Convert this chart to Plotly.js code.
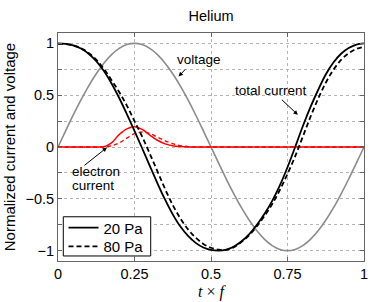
<!DOCTYPE html>
<html>
<head>
<meta charset="utf-8">
<script src="https://cdn.plot.ly/plotly-3.0.1.min.js"></script>
<style>html,body{margin:0;padding:0;background:#fff;}#chart{width:374px;height:302px;}</style>
</head>
<body>
<div id="chart"></div>
<script>
// t x f (phase of the RF period)
var phase = [0,0.025,0.05,0.075,0.1,0.125,0.15,0.175,0.2,0.225,0.25,0.275,0.3,0.325,0.35,0.375,0.4,0.425,0.45,0.475,0.5,0.525,0.55,0.575,0.6,0.625,0.65,0.675,0.7,0.725,0.75,0.775,0.8,0.825,0.85,0.875,0.9,0.925,0.95,0.975,1];

// normalized voltage
var voltage = [0,0.156,0.309,0.454,0.588,0.707,0.809,0.891,0.951,0.988,1,0.988,0.951,0.891,0.809,0.707,0.588,0.454,0.309,0.156,0,-0.156,-0.309,-0.454,-0.588,-0.707,-0.809,-0.891,-0.951,-0.988,-1,-0.988,-0.951,-0.891,-0.809,-0.707,-0.588,-0.454,-0.309,-0.156,0];

// total current, 20 Pa
var total20 = [1,0.995,0.98,0.95,0.9,0.828,0.733,0.613,0.473,0.318,0.155,-0.012,-0.182,-0.35,-0.508,-0.65,-0.768,-0.858,-0.925,-0.97,-0.993,-1,-0.99,-0.96,-0.91,-0.84,-0.75,-0.645,-0.52,-0.37,-0.195,0,0.2,0.385,0.55,0.7,0.815,0.9,0.955,0.988,1];

// total current, 80 Pa
var total80 = [0.995,0.993,0.98,0.953,0.908,0.842,0.755,0.645,0.53,0.4,0.25,0.1,-0.065,-0.235,-0.405,-0.56,-0.69,-0.795,-0.875,-0.935,-0.972,-0.99,-0.992,-0.968,-0.915,-0.85,-0.765,-0.665,-0.55,-0.415,-0.26,-0.09,0.1,0.29,0.465,0.62,0.745,0.84,0.905,0.947,0.967];

// electron current, 20 Pa
var electron20 = [0,0,0,0,0,0,0.003,0.04,0.12,0.175,0.195,0.17,0.115,0.065,0.03,0.012,0.004,0,0,0,0,0,0,0,0,0,0,0,0,0,0,0,0,0,0,0,0,0,0,0,0];

// electron current, 80 Pa
var electron80 = [0,0,0,0,0,0,0,0.012,0.04,0.085,0.13,0.145,0.13,0.095,0.06,0.033,0.013,0.004,0,0,0,0,0,0,0,0,0,0,0,0,0,0,0,0,0,0,0,0,0,0,0];

var xTickVals = [0,0.25,0.5,0.75,1];
var xTickText = ['0','0.25','0.5','0.75','1'];
var yTickVals = [-1,-0.75,-0.5,-0.25,0,0.25,0.5,0.75,1];
var yTickText = ['\u22121','','\u22120.5','','0','','0.5','','1'];
var seriesNames = ['20 Pa','80 Pa'];

var FONT = 'Liberation Sans, Arial, Helvetica, sans-serif';

var traces = [
  {x: phase, y: voltage, mode: 'lines', line: {color: '#8c8c8c', width: 1.6, shape: 'spline'}, showlegend: false, hoverinfo: 'skip'},
  {x: phase, y: electron80, mode: 'lines', line: {color: '#ff0000', width: 1.4, dash: '4px,3px', shape: 'spline'}, showlegend: false, hoverinfo: 'skip'},
  {x: phase, y: electron20, mode: 'lines', line: {color: '#ff0000', width: 1.5, shape: 'spline'}, showlegend: false, hoverinfo: 'skip'},
  {x: phase, y: total20, mode: 'lines', name: seriesNames[0], legend: 'legend', line: {color: '#000000', width: 1.8, shape: 'spline'}},
  {x: phase, y: total80, mode: 'lines', name: seriesNames[1], legend: 'legend2', line: {color: '#000000', width: 1.8, dash: '5px,3px', shape: 'spline'}}
];

var axisCommon = {
  showline: true, linecolor: '#666666', linewidth: 1, mirror: 'ticks',
  ticks: 'inside', ticklen: 4, tickcolor: '#666666', tickwidth: 1,
  showgrid: true, gridcolor: '#b4b4b4', griddash: 'dot', gridwidth: 1,
  zeroline: false, tickfont: {family: FONT, size: 14.5, color: '#000'}
};

var legendCommon = {
  xanchor: 'left', yanchor: 'middle', bgcolor: 'rgba(0,0,0,0)', borderwidth: 0,
  font: {family: FONT, size: 15, color: '#000'}
};

var layout = {
  width: 374, height: 302,
  margin: {l: 58, r: 10, t: 33, b: 41},
  paper_bgcolor: '#fff', plot_bgcolor: '#fff',
  title: {text: 'Helium', font: {family: FONT, size: 14.5, color: '#000'}, x: 0.5, xref: 'paper', y: 0.947, yref: 'container', yanchor: 'middle'},
  xaxis: Object.assign({}, axisCommon, {
    range: [0, 1], tickvals: xTickVals, ticktext: xTickText,
    title: {text: '<i>t</i> \u00d7 <i>f</i>', font: {family: 'Liberation Serif, Times New Roman, serif', size: 16, color: '#000'}, standoff: 4}
  }),
  yaxis: Object.assign({}, axisCommon, {
    range: [-1.1, 1.1], tickvals: yTickVals, ticktext: yTickText,
    title: {text: 'Normalized current and voltage', font: {family: FONT, size: 15, color: '#000'}, standoff: 6}
  }),
  legend: Object.assign({}, legendCommon, {x: 0.018, y: 0.145}),
  legend2: Object.assign({}, legendCommon, {x: 0.018, y: 0.063}),
  shapes: [
    {type: 'rect', xref: 'paper', yref: 'paper', x0: 0.0173, x1: 0.303, y0: 0.022, y1: 0.194,
     line: {color: '#000', width: 1}, fillcolor: '#fff', layer: 'above'}
  ],
  annotations: [
    {x: 0.46, y: 0.84, xref: 'x', yref: 'y', text: 'voltage', showarrow: false, font: {family: FONT, size: 13.5, color: '#000'}},
    {x: 0.394, y: 0.68, xref: 'x', yref: 'y', text: '', showarrow: true, arrowhead: 2, arrowsize: 0.9, arrowwidth: 1, arrowcolor: '#000', ax: 8, ay: -8.5},
    {x: 0.697, y: 0.55, xref: 'x', yref: 'y', text: 'total current', showarrow: false, font: {family: FONT, size: 13.5, color: '#000'}},
    {x: 0.784, y: 0.31, xref: 'x', yref: 'y', text: '', showarrow: true, arrowhead: 2, arrowsize: 0.9, arrowwidth: 1, arrowcolor: '#000', ax: -17.5, ay: -16.5},
    {x: 0.04, y: -0.24, xref: 'x', yref: 'y', xanchor: 'left', text: 'electron', showarrow: false, font: {family: FONT, size: 13.5, color: '#000'}},
    {x: 0.04, y: -0.37, xref: 'x', yref: 'y', xanchor: 'left', text: 'current', showarrow: false, font: {family: FONT, size: 13.5, color: '#000'}},
    {x: 0.16, y: -0.005, xref: 'x', yref: 'y', text: '', showarrow: true, arrowhead: 2, arrowsize: 0.9, arrowwidth: 1, arrowcolor: '#000', ax: -24, ay: 19}
  ],
  showlegend: true
};

Plotly.newPlot('chart', traces, layout, {staticPlot: true, displayModeBar: false});
</script>
</body>
</html>
